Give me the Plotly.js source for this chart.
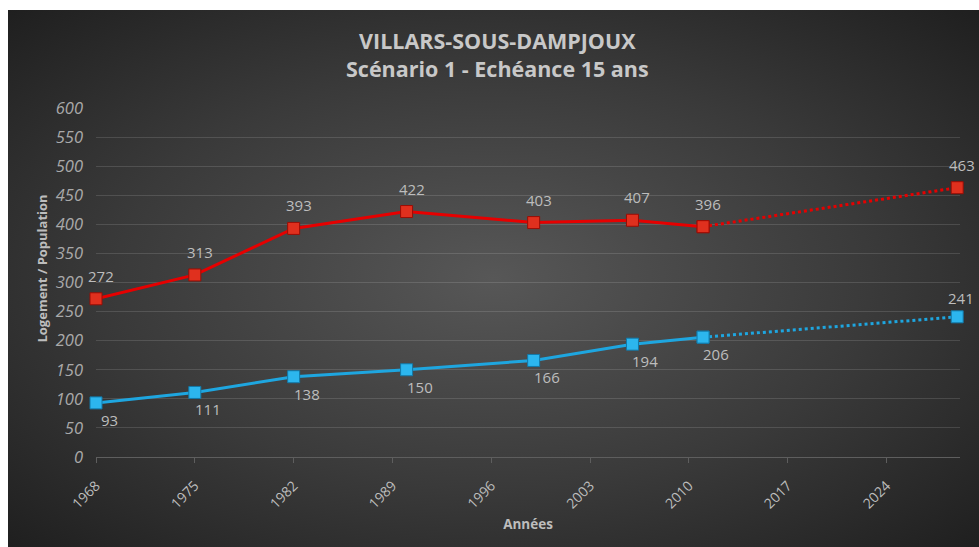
<!DOCTYPE html>
<html>
<head>
<meta charset="utf-8">
<script src="https://cdn.plot.ly/plotly-3.0.1.min.js"></script>
<style>
  html, body { margin: 0; padding: 0; background: #ffffff; }
  #chart {
    width: 979px; height: 547px;
    background-color: #ffffff;
    background-image: radial-gradient(ellipse farthest-corner at 50% 50%, #575757 0%, #3a3a3a 55%, #1f1f1f 100%);
    background-repeat: no-repeat;
    background-position: 8px 10px;
    background-size: 971px 537px;
  }
</style>
</head>
<body>
<div id="chart"></div>
<script>
// ---- data ----
const years = [1968, 1975, 1982, 1990, 1999, 2006, 2011];
const projYears = [2011, 2029];
const population = [272, 313, 393, 422, 403, 407, 396];
const populationProj = [396, 463];
const logements = [93, 111, 138, 150, 166, 194, 206];
const logementsProj = [206, 241];
const xTicks = [1968, 1975, 1982, 1989, 1996, 2003, 2010, 2017, 2024];
const yTicks = [0, 50, 100, 150, 200, 250, 300, 350, 400, 450, 500, 550, 600];

// ---- styles ----
const RED = '#e60000';
const BLUE = '#1ea6e0';
const TXT = '#bdbdbd';
const FONT = 'Open Sans, sans-serif';

const redMarker = { symbol: 'square', size: 12, color: '#e0301e', line: { color: '#9a0d05', width: 1 } };
const blueMarker = { symbol: 'square', size: 12, color: '#2cb6ee', line: { color: '#1279a8', width: 1 } };

const traces = [
  { x: projYears, y: populationProj, type: 'scatter', mode: 'lines+markers', name: 'Population projection',
    line: { color: RED, width: 3, dash: 'dot' }, marker: redMarker, cliponaxis: false },
  { x: projYears, y: logementsProj, type: 'scatter', mode: 'lines+markers', name: 'Logements projection',
    line: { color: BLUE, width: 3, dash: 'dot' }, marker: blueMarker, cliponaxis: false },
  { x: years, y: population, type: 'scatter', mode: 'lines+markers', name: 'Population',
    line: { color: RED, width: 3 }, marker: redMarker, cliponaxis: false },
  { x: years, y: logements, type: 'scatter', mode: 'lines+markers', name: 'Logements',
    line: { color: BLUE, width: 3 }, marker: blueMarker, cliponaxis: false }
];

const labelFont = { family: FONT, size: 15, color: TXT };
const annotations = [];
const allPopX = years.concat([projYears[1]]);
const allPopY = population.concat([populationProj[1]]);
allPopX.forEach((x, i) => {
  annotations.push({ x: x, y: allPopY[i], xref: 'x', yref: 'y', text: String(allPopY[i]),
    showarrow: false, font: labelFont, xshift: 5, yshift: 23 });
});
const allLogX = years.concat([projYears[1]]);
const allLogY = logements.concat([logementsProj[1]]);
allLogX.forEach((x, i) => {
  const last = i === allLogX.length - 1;
  annotations.push({ x: x, y: allLogY[i], xref: 'x', yref: 'y', text: String(allLogY[i]),
    showarrow: false, font: labelFont, xshift: last ? 4 : 13, yshift: last ? 19 : -17 });
});
// y-axis title (placed as paper annotation, slightly above centre as in the original)
annotations.push({ xref: 'paper', yref: 'paper', x: -0.0625, y: 0.54, xanchor: 'center', yanchor: 'middle',
  text: 'Logement / Population', textangle: -90, showarrow: false,
  font: { family: FONT, size: 13, color: TXT, weight: 'bold' } });

const layout = {
  width: 979, height: 547,
  paper_bgcolor: 'rgba(0,0,0,0)',
  plot_bgcolor: 'rgba(0,0,0,0)',
  margin: { l: 96, r: 19, t: 108, b: 90, pad: 0 },
  showlegend: false,
  title: {
    text: 'VILLARS-SOUS-DAMPJOUX<br>Scénario 1 - Echéance 15 ans',
    font: { family: FONT, size: 21.5, color: '#c8c8c8', weight: 'bold' },
    x: 0.508, xref: 'container', xanchor: 'center',
    y: 0.91, yref: 'container', yanchor: 'top'
  },
  xaxis: {
    type: 'linear',
    range: [1968, 2029.2],
    tickmode: 'array', tickvals: xTicks, ticktext: xTicks.map(String),
    tickangle: -45,
    tickfont: { family: FONT, size: 14, color: TXT },
    ticks: 'outside', ticklen: 5, tickcolor: '#5e5e5e', tickwidth: 1,
    ticklabelstandoff: 9,
    showline: true, linecolor: '#5e5e5e', linewidth: 1,
    showgrid: false, zeroline: false,
    title: { text: 'Années', font: { family: FONT, size: 13.5, color: TXT, weight: 'bold' }, standoff: 8 }
  },
  yaxis: {
    range: [0, 600],
    tickmode: 'array', tickvals: yTicks, ticktext: yTicks.map(String),
    tickfont: { family: FONT, size: 16.5, color: '#a9a9a9', style: 'italic' },
    ticklabelstandoff: 12,
    showgrid: true, gridcolor: 'rgba(255,255,255,0.13)', gridwidth: 1,
    zeroline: false, showline: false
  },
  annotations: annotations
};

Plotly.newPlot('chart', traces, layout, { displayModeBar: false, staticPlot: true });
</script>
</body>
</html>
